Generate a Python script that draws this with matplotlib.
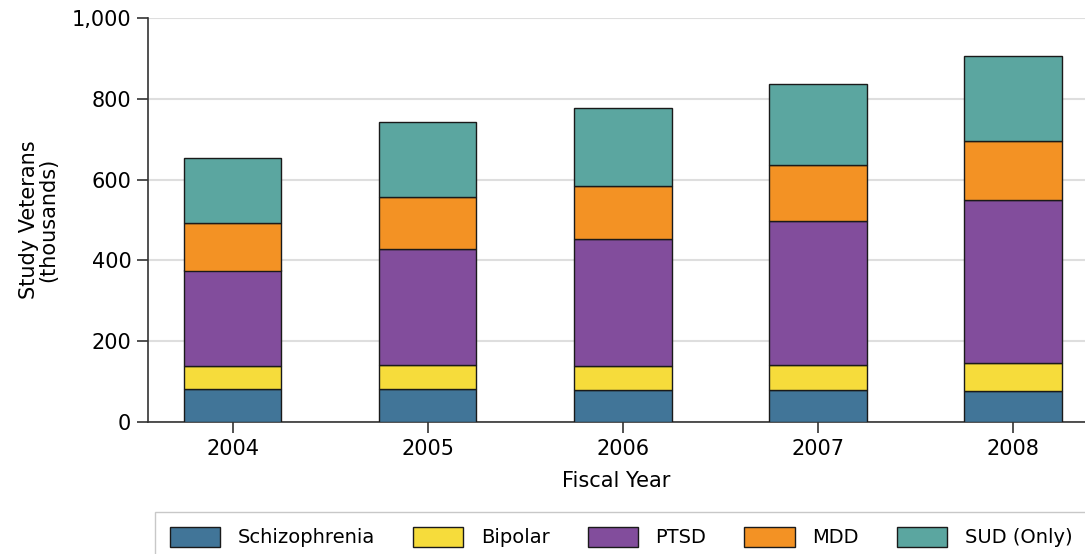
"""
Study veterans by diagnosis, stacked bars per fiscal year
"""

import matplotlib
matplotlib.use("Agg")
import matplotlib.pyplot as plt
import numpy as np
from matplotlib.ticker import FuncFormatter

years = ["2004", "2005", "2006", "2007", "2008"]
diagnoses = ["Schizophrenia", "Bipolar", "PTSD", "MDD", "SUD (Only)"]

# thousands of veterans
schizophrenia = [81, 82, 80, 80, 77]
bipolar = [58, 59, 59, 61, 68]
ptsd = [236, 286, 315, 357, 405]
mdd = [118, 130, 130, 137, 146]
sud_only = [161, 186, 193, 201, 210]

colors = ["#417598", "#f6dc3b", "#824d9c", "#f39224", "#5ba6a0"]


def main():
    plt.rcParams["font.family"] = ["DejaVu Sans"]

    fig = plt.figure(figsize=(10.85, 5.54), dpi=100)
    ax = fig.add_axes([148 / 1085, 1 - 422 / 554, 1 - 148 / 1085, 404 / 554])

    x = np.arange(len(years))
    bottom = np.zeros(len(years))
    series = [schizophrenia, bipolar, ptsd, mdd, sud_only]
    for name, vals, col in zip(diagnoses, series, colors):
        ax.bar(x, vals, width=0.5, bottom=bottom, color=col,
               edgecolor="#1a1a1a", linewidth=1.0, label=name, zorder=3)
        bottom += np.array(vals)

    ax.set_xlim(-0.434, 4.37)
    ax.set_ylim(0, 1000)
    ax.set_xticks(x)
    ax.set_xticklabels(years)
    ax.set_yticks([0, 200, 400, 600, 800, 1000])
    ax.yaxis.set_major_formatter(FuncFormatter(lambda v, p: f"{int(v):,}"))

    ax.grid(axis="y", color="#dedede", linewidth=1.5, zorder=0)
    ax.set_axisbelow(True)
    for side in ["top", "right"]:
        ax.spines[side].set_visible(False)
    for side in ["left", "bottom"]:
        ax.spines[side].set_color("#333333")
        ax.spines[side].set_linewidth(1.2)
    ax.tick_params(axis="both", length=8, width=1.2, color="#333333",
                   labelsize=15, pad=4)

    ax.set_xlabel("Fiscal Year", fontsize=15, labelpad=9)
    ax.set_ylabel("Study Veterans\n(thousands)", fontsize=15,
                  linespacing=0.95, labelpad=10)

    leg = fig.legend(loc="upper left", bbox_to_anchor=(155 / 1085, 1 - 512 / 554),
                     ncol=5, fontsize=14, frameon=True, fancybox=False,
                     handlelength=2.6, handleheight=1.2, handletextpad=0.9,
                     columnspacing=1.95, borderpad=0.75, borderaxespad=0)
    leg.get_frame().set_edgecolor("#bbbbbb")
    leg.get_frame().set_linewidth(1.0)

    fig.savefig("out.png", dpi=100)


if __name__ == "__main__":
    main()
